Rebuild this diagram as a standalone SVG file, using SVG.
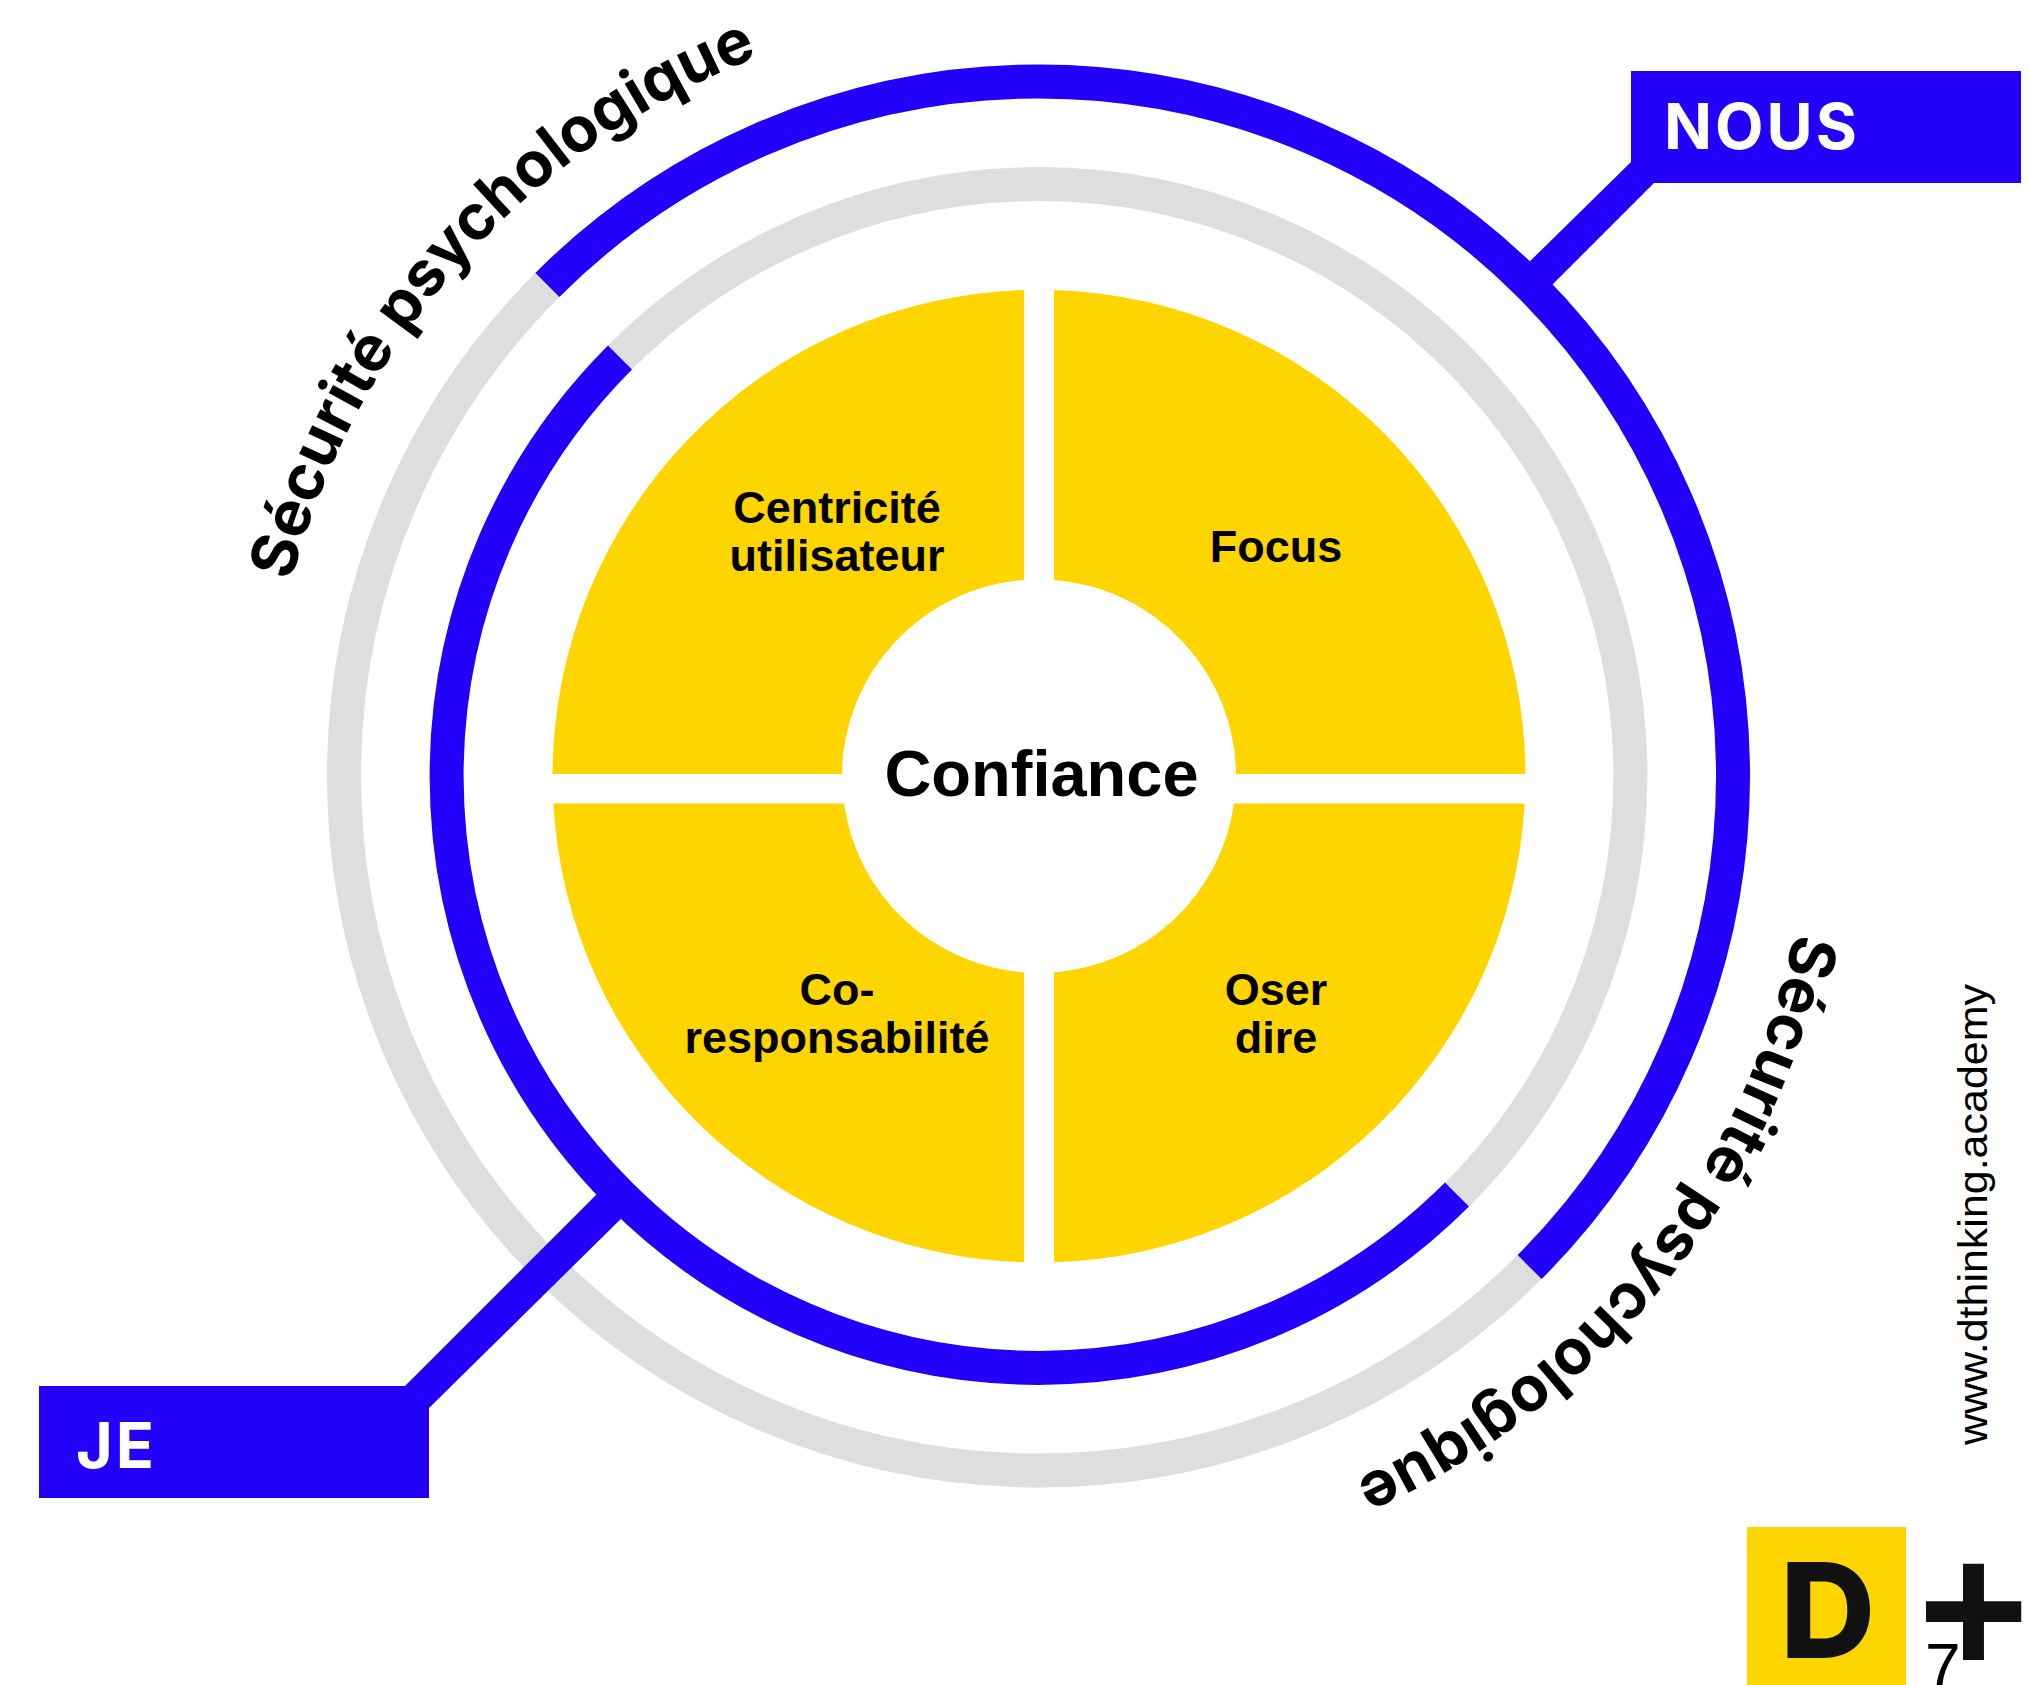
<svg xmlns="http://www.w3.org/2000/svg" xmlns:xlink="http://www.w3.org/1999/xlink" width="2029" height="1685" viewBox="0 0 2029 1685">
<style>
.ring{fill:none;stroke-width:34}
.blue{stroke:#2200fa}
.gray{stroke:#dedede}
.quad{fill:#ffd500}
.box{fill:#2200fa}
.conn{fill:#2200fa}
.lab{font-family:"Liberation Sans",Arial,sans-serif;font-weight:700;fill:#000;text-anchor:middle;font-size:45px}
.tag{font-family:Inter,"Noto Sans",sans-serif;font-weight:700;fill:#fff;font-size:63px;letter-spacing:3px}
.arc{font-family:Inter,"Noto Sans",sans-serif;font-weight:700;fill:#000;font-size:63px}
</style>
<defs>
<path id="arcPath" d="M291.4 581.4A772 772 0 0 1 931.1 11.5"/>
</defs>
<rect width="2029" height="1685" fill="#fff"/>
<g id="rings">
<path class="ring gray" d="M1529.6 1267.1A694.5 694.5 0 0 1 547.4 1267.1A694.5 694.5 0 0 1 547.4 284.9"/>
<path class="ring blue" d="M547.4 284.9A694.5 694.5 0 0 1 1529.6 284.9A694.5 694.5 0 0 1 1529.6 1267.1"/>
<path class="ring gray" d="M620 357.4A592 592 0 0 1 1457 357.4A592 592 0 0 1 1457 1194.6"/>
<path class="ring blue" d="M1457 1194.6A592 592 0 0 1 620 1194.6A592 592 0 0 1 620 357.4"/>
</g>
<g id="connectors">
<polygon class="conn" points="1631,162 1654,183 1541,296 1518,273"/>
<polygon class="conn" points="405,1386 429,1408 634,1206 610,1181"/>
</g>
<g id="node-nous">
<rect class="box" x="1631" y="71" width="390" height="112"/>
<text class="tag" x="1664" y="149">NOUS</text>
</g>
<g id="node-je">
<rect class="box" x="39" y="1386" width="390" height="112"/>
<text class="tag" x="76" y="1468">JE</text>
</g>
<g id="node-centricite">
<path class="quad" d="M1024 290V580A197 197 0 0 0 842 774H552.5A486.5 486.5 0 0 1 1024 290Z"/>
<text class="lab" x="837" y="523">Centricité</text>
<text class="lab" x="837" y="571">utilisateur</text>
</g>
<g id="node-focus">
<path class="quad" d="M1054 290A486.5 486.5 0 0 1 1525.5 774H1236A197 197 0 0 0 1054 580Z"/>
<text class="lab" x="1276" y="562">Focus</text>
</g>
<g id="node-coresponsabilite">
<path class="quad" d="M844 803.5H553.3A486.5 486.5 0 0 0 1024 1262.3V972.4A197 197 0 0 1 844 803.5Z"/>
<text class="lab" x="837" y="1005">Co-</text>
<text class="lab" x="837" y="1053">responsabilité</text>
</g>
<g id="node-oser">
<path class="quad" d="M1054 972.4V1262.3A486.5 486.5 0 0 0 1524.7 803.5H1234A197 197 0 0 1 1054 972.4Z"/>
<text class="lab" x="1276" y="1005">Oser</text>
<text class="lab" x="1276" y="1053">dire</text>
</g>
<g id="node-confiance">
<text class="lab" x="1041.5" y="796" style="font-size:65px">Confiance</text>
</g>
<g id="label-securite-1">
<text class="arc"><textPath href="#arcPath" xlink:href="#arcPath">Sécurité psychologique</textPath></text>
</g>
<g id="label-securite-2">
<text class="arc" transform="rotate(177.1 1038.5 776)"><textPath href="#arcPath" xlink:href="#arcPath">Sécurité psychologique</textPath></text>
</g>
<g id="label-url">
<text transform="translate(1987 1445) rotate(-90)" textLength="461" lengthAdjust="spacingAndGlyphs" style="font-family:'Liberation Sans',Arial,sans-serif;font-size:40px;fill:#000">www.dthinking.academy</text>
</g>
<g id="logo">
<rect x="1747" y="1527" width="159" height="158" fill="#ffd500"/>
<text x="1780" y="1658" style="font-family:Inter,sans-serif;font-weight:800;font-size:132px;fill:#111">D</text>
<text x="1918" y="1675" style="font-family:'Liberation Sans',sans-serif;font-weight:700;font-size:190px;fill:#111">+</text>
<text x="1925" y="1689" style="font-family:'Liberation Sans',sans-serif;font-size:64px;fill:#000">7</text>
</g>
</svg>
